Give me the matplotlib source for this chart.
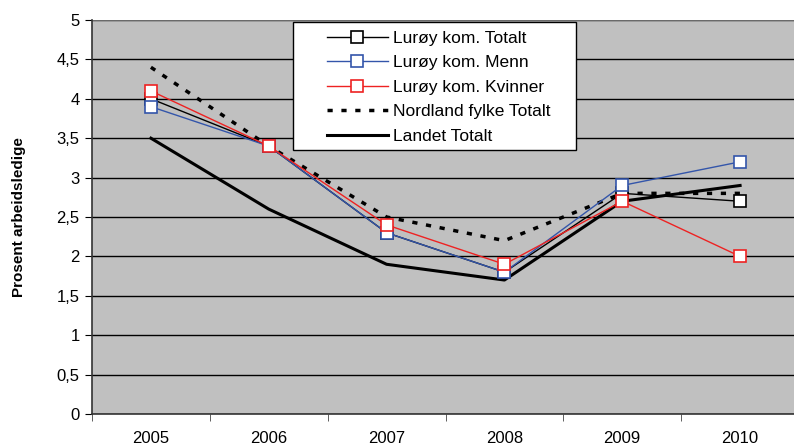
import matplotlib
matplotlib.use("Agg")
import matplotlib.pyplot as plt
from matplotlib.patches import Rectangle
from matplotlib.ticker import MultipleLocator, FixedLocator, FuncFormatter

plt.rcParams['font.family'] = ['Liberation Sans', 'DejaVu Sans']

years = ['2005', '2006', '2007', '2008', '2009', '2010']
luroy_totalt = [4.0, 3.4, 2.3, 1.8, 2.8, 2.7]
luroy_menn = [3.9, 3.4, 2.3, 1.8, 2.9, 3.2]
luroy_kvinner = [4.1, 3.4, 2.4, 1.9, 2.7, 2.0]
nordland_totalt = [4.4, 3.4, 2.5, 2.2, 2.8, 2.8]
landet_totalt = [3.5, 2.6, 1.9, 1.7, 2.7, 2.9]

W, H = 794, 445
fig = plt.figure(figsize=(W / 100, H / 100), dpi=100)
left, right, top, bottom = 92, 799, 20, 414
ax = fig.add_axes([left / W, 1 - bottom / H, (right - left) / W, (bottom - top) / H])
ax.set_facecolor('#c0c0c0')

x = list(range(len(years)))
ms = 9
ax.plot(x, luroy_totalt, color='black', lw=1, marker='s', ms=ms, mfc='white', mec='black', mew=1.2,
        label='Lurøy kom. Totalt', zorder=5)
ax.plot(x, luroy_menn, color='#3355aa', lw=1, marker='s', ms=ms, mfc='white', mec='#3355aa', mew=1.2,
        label='Lurøy kom. Menn', zorder=5)
ax.plot(x, luroy_kvinner, color='#ee2222', lw=1, marker='s', ms=ms, mfc='white', mec='#ee2222', mew=1.2,
        label='Lurøy kom. Kvinner', zorder=5)
ax.plot(x, nordland_totalt, color='black', lw=2.5, ls=(0, (1.5, 2.5)), label='Nordland fylke Totalt', zorder=4)
ax.plot(x, landet_totalt, color='black', lw=2.2, label='Landet Totalt', zorder=4)

ax.set_xlim(-0.5, len(years) - 0.5)
ax.set_ylim(0, 5)
ax.yaxis.set_major_locator(MultipleLocator(0.5))
ax.yaxis.set_major_formatter(FuncFormatter(lambda v, p: ('%g' % v).replace('.', ',')))
ax.grid(axis='y', color='black', lw=1)
ax.set_axisbelow(True)

ax.set_xticks(x)
ax.set_xticklabels(years)
ax.xaxis.set_minor_locator(FixedLocator([i - 0.5 for i in range(len(years) + 1)]))
ax.tick_params(axis='x', which='major', length=0, labelsize=12, pad=12)
ax.tick_params(axis='x', which='minor', length=5, direction='out', color='#444444')
ax.tick_params(axis='y', which='major', length=5, direction='out', labelsize=12, pad=4)

for s in ['top', 'right']:
    ax.spines[s].set_visible(False)
ax.spines['left'].set_color('#333333')
ax.spines['left'].set_linewidth(1.2)
ax.spines['bottom'].set_color('#333333')
ax.spines['bottom'].set_linewidth(1.2)
ax.axhline(5, color='#808080', lw=1.2, zorder=1)

ax.set_ylabel('Prosent arbeidsledige', fontsize=11, fontweight='bold', labelpad=22)

# legend frame
ax.add_patch(Rectangle((0.2843, 0.670), 0.6846 - 0.2843, 0.995 - 0.670, transform=ax.transAxes,
                       facecolor='white', edgecolor='black', lw=1, zorder=9))
leg = ax.legend(loc='upper left', bbox_to_anchor=(0.3324, 0.973), fontsize=12.5, frameon=False,
                numpoints=1, handlelength=3.5, borderpad=0, labelspacing=0.54, handletextpad=0.3,
                borderaxespad=0)
leg.set_zorder(10)

fig.savefig('out.png', dpi=100)
